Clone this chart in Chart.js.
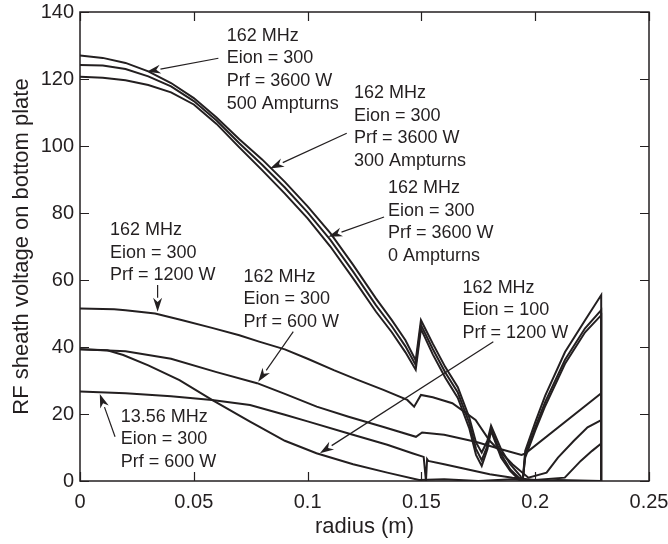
<!DOCTYPE html>
<html>
<head>
<meta charset="utf-8">
<script src="https://cdn.jsdelivr.net/npm/chart.js@4.4.0/dist/chart.umd.min.js"></script>
<style>
  html, body { margin: 0; padding: 0; background: #fff; }
  canvas { display: block; }
</style>
</head>
<body>
<canvas id="grafico" width="668" height="544"></canvas>
<script>
// axis ticks
const xTicks = [0, 0.05, 0.1, 0.15, 0.2, 0.25];
const yTicks = [0, 20, 40, 60, 80, 100, 120, 140];

// 162 MHz, Eion = 300, Prf = 3600 W  (500 / 300 / 0 Ampturns share the radii)
const rAmp = [0, 0.01, 0.02, 0.03, 0.04, 0.05, 0.06, 0.07, 0.08, 0.09,
  0.1, 0.11, 0.12, 0.13, 0.137, 0.143, 0.1475, 0.1498, 0.155, 0.1605,
  0.166, 0.171, 0.174, 0.1765, 0.179, 0.1806, 0.185, 0.189, 0.1935, 0.1945,
  0.1956, 0.2, 0.2044, 0.2131, 0.2219, 0.229, 0.229];
const v500 = [127, 126.3, 124.8, 122.3, 118.8, 114.3, 108.5, 102, 96, 89.3,
  82, 74, 64.5, 54.5, 48, 42, 36, 48, 41, 34,
  28, 19, 11.5, 8.5, 12, 16.5, 9.5, 5, 1.5, 0,
  9, 17.5, 25.5, 38.5, 48, 55.5, 0];
const v300 = [124.2, 124, 123, 120.8, 117.8, 113.4, 107.6, 100.8, 94.4, 87.6,
  80.2, 72, 62.5, 52.5, 46.2, 40.2, 34.6, 46.6, 39.4, 32.4,
  26.4, 17.4, 9.6, 6.2, 10.5, 15.5, 8, 3.5, 0.5, 0,
  7.8, 16, 23.6, 36.2, 45.6, 51, 0];
const v0 = [120.7, 120.4, 119.6, 118.2, 116, 112.4, 106.6, 99.6, 92.8, 85.8,
  78.4, 70, 60.5, 50.6, 44.4, 38.4, 33.2, 45.4, 37.8, 30.8,
  24.8, 15.8, 7.8, 4.5, 9.5, 15, 7, 3, 0, 0,
  7, 15, 22.4, 35, 44.4, 49.5, 0];

// 162 MHz, Eion = 300, Prf = 1200 W
const r1200 = [0, 0.015, 0.02, 0.033, 0.045, 0.058, 0.07, 0.0787, 0.09, 0.1,
  0.1115, 0.122, 0.1333, 0.1438, 0.1468, 0.1498, 0.155, 0.1636, 0.1738, 0.18,
  0.19, 0.197, 0.205, 0.21, 0.217, 0.223, 0.229];
const v1200 = [51.5, 51.3, 51, 50, 48, 45.7, 43.5, 41.6, 39.3, 36.5,
  33.1, 30.2, 27.2, 24.2, 22.2, 25.7, 25, 23.2, 18.2, 12,
  5, 1, 2.5, 7, 12, 16, 18.2];

// 162 MHz, Eion = 300, Prf = 600 W
const r600 = [0, 0.02, 0.04, 0.06, 0.0778, 0.09, 0.104, 0.118, 0.133, 0.1476,
  0.1503, 0.16, 0.1738, 0.185, 0.194, 0.1956, 0.229];
const v600 = [39.3, 38.7, 36.5, 32.5, 29.2, 26, 22.2, 19.2, 16.2, 13.2,
  14.5, 13.8, 11.7, 9.5, 7.8, 8.2, 26.2];

// 162 MHz, Eion = 100, Prf = 1200 W
const r100 = [0, 0.012, 0.019, 0.03, 0.0437, 0.058, 0.0747, 0.0787, 0.09, 0.1039,
  0.12, 0.135, 0.149, 0.16, 0.175, 0.19, 0.2, 0.21, 0.229];
const v100 = [39.3, 39, 37.6, 34.5, 30.1, 24.2, 17.7, 16.2, 12, 8.3,
  5, 2.5, 0.3, 0.5, 0, 0.5, 0, 0.3, 0];

// 13.56 MHz, Eion = 300, Prf = 600 W
const r1356 = [0, 0.02, 0.04, 0.058, 0.0747, 0.09, 0.1, 0.118, 0.135, 0.146,
  0.151, 0.152, 0.1525, 0.153, 0.16, 0.17, 0.18, 0.19, 0.2, 0.213,
  0.22, 0.225, 0.229];
const v1356 = [26.7, 26.2, 25.3, 24.2, 22.7, 19.8, 17.8, 14.2, 10.8, 8.3,
  7.2, 0, 6.5, 6, 5, 3.5, 2, 1, 0.3, 1,
  6, 9, 11.2];

// labels: text anchor and arrow (data units)
const notes = [
  { at: [0.0645, 131.4], lines: ['162 MHz', 'Eion = 300', 'Prf = 3600 W', '500 Ampturns'], from: [0.0608, 126.2], to: [0.0293, 122.2] },
  { at: [0.1204, 114.3], lines: ['162 MHz', 'Eion = 300', 'Prf = 3600 W', '300 Ampturns'], from: [0.1172, 103.8], to: [0.0835, 93.3] },
  { at: [0.1353, 86.0], lines: ['162 MHz', 'Eion = 300', 'Prf = 3600 W', '0 Ampturns'], from: [0.1336, 78.8], to: [0.1091, 72.9] },
  { at: [0.0132, 73.4], lines: ['162 MHz', 'Eion = 300', 'Prf = 1200 W'], from: [0.0341, 58.5], to: [0.0341, 50.5] },
  { at: [0.0718, 59.5], lines: ['162 MHz', 'Eion = 300', 'Prf = 600 W'], from: [0.0937, 44.6], to: [0.0783, 29.6] },
  { at: [0.1681, 56.2], lines: ['162 MHz', 'Eion = 100', 'Prf = 1200 W'], from: [0.1816, 41.6], to: [0.1054, 8.3] },
  { at: [0.0179, 17.7], lines: ['13.56 MHz', 'Eion = 300', 'Prf = 600 W'], from: [0.0154, 13.2], to: [0.0087, 26.0] }
];

const ink = '#231f20';
const FONT = '"Liberation Sans", Arial, Helvetica, sans-serif';

function serie(rs, vs, w) {
  return {
    data: rs.map((r, i) => ({ x: r, y: vs[i] })),
    showLine: true,
    borderColor: ink,
    borderWidth: w,
    pointRadius: 0,
    tension: 0,
    fill: false
  };
}

const molduraETexto = {
  id: 'molduraETexto',
  afterDatasetsDraw(chart) {
    const ctx = chart.ctx;
    const a = chart.chartArea;
    const sx = chart.scales.x, sy = chart.scales.y;
    ctx.save();
    ctx.strokeStyle = ink;
    ctx.lineWidth = 1.5;
    ctx.strokeRect(a.left, a.top, a.right - a.left, a.bottom - a.top);
    const tl = 9;
    ctx.beginPath();
    xTicks.forEach(t => {
      const px = Math.round(sx.getPixelForValue(t)) + 0.5;
      ctx.moveTo(px, a.bottom); ctx.lineTo(px, a.bottom - tl);
      ctx.moveTo(px, a.top); ctx.lineTo(px, a.top + tl);
    });
    yTicks.forEach(t => {
      const py = Math.round(sy.getPixelForValue(t)) + 0.5;
      ctx.moveTo(a.left, py); ctx.lineTo(a.left + tl, py);
      ctx.moveTo(a.right, py); ctx.lineTo(a.right - tl, py);
    });
    ctx.lineWidth = 1.2;
    ctx.stroke();

    // labels and arrows
    ctx.fillStyle = ink;
    ctx.font = '18px ' + FONT;
    ctx.textAlign = 'left';
    ctx.textBaseline = 'alphabetic';
    notes.forEach(n => {
      const x0 = sx.getPixelForValue(n.at[0]);
      const y0 = sy.getPixelForValue(n.at[1]);
      n.lines.forEach((l, i) => ctx.fillText(l, x0, y0 + i * 22.6));
      const fx = sx.getPixelForValue(n.from[0]), fy = sy.getPixelForValue(n.from[1]);
      const tx = sx.getPixelForValue(n.to[0]), ty = sy.getPixelForValue(n.to[1]);
      const ang = Math.atan2(ty - fy, tx - fx);
      const hl = 14, hw = 4.5;
      const bx = tx - hl * Math.cos(ang), by = ty - hl * Math.sin(ang);
      ctx.beginPath();
      ctx.moveTo(fx, fy); ctx.lineTo(bx, by);
      ctx.lineWidth = 1.2;
      ctx.stroke();
      ctx.beginPath();
      ctx.moveTo(tx, ty);
      ctx.lineTo(bx + hw * Math.sin(ang), by - hw * Math.cos(ang));
      ctx.lineTo(bx + 0.3 * hl * Math.cos(ang), by + 0.3 * hl * Math.sin(ang));
      ctx.lineTo(bx - hw * Math.sin(ang), by + hw * Math.cos(ang));
      ctx.closePath();
      ctx.fill();
    });
    ctx.restore();
  }
};

new Chart(document.getElementById('grafico'), {
  type: 'scatter',
  data: {
    datasets: [
      serie(rAmp, v500, 2),
      serie(rAmp, v300, 2),
      serie(rAmp, v0, 2),
      serie(r1200, v1200, 2),
      serie(r600, v600, 2),
      serie(r100, v100, 2),
      serie(r1356, v1356, 2)
    ]
  },
  options: {
    responsive: false,
    animation: false,
    layout: { padding: { top: 12, right: 19, left: 0, bottom: 0 } },
    plugins: { legend: { display: false }, tooltip: { enabled: false } },
    scales: {
      x: {
        type: 'linear',
        min: 0, max: 0.25,
        afterBuildTicks: s => { s.ticks = xTicks.map(v => ({ value: v })); },
        afterFit: s => { s.height = 63; s.paddingLeft = 0; s.paddingRight = 0; },
        grid: { display: false, drawTicks: false },
        border: { display: false },
        ticks: {
          color: ink, padding: 9, maxRotation: 0,
          font: { family: FONT, size: 20 },
          callback: v => String(v)
        },
        title: {
          display: true, text: 'radius (m)', color: ink,
          font: { family: FONT, size: 22 },
          padding: { top: 0, bottom: 4 }
        }
      },
      y: {
        type: 'linear',
        min: 0, max: 140,
        afterBuildTicks: s => { s.ticks = yTicks.map(v => ({ value: v })); },
        afterFit: s => { s.width = 80; s.paddingTop = 0; s.paddingBottom = 0; },
        grid: { display: false, drawTicks: false },
        border: { display: false },
        ticks: {
          color: ink, padding: 6,
          font: { family: FONT, size: 20 },
          callback: v => String(v)
        },
        title: {
          display: true, text: 'RF sheath voltage on bottom plate', color: ink,
          font: { family: FONT, size: 22 },
          padding: { top: 9, bottom: 0 }
        }
      }
    }
  },
  plugins: [molduraETexto]
});
</script>
</body>
</html>
